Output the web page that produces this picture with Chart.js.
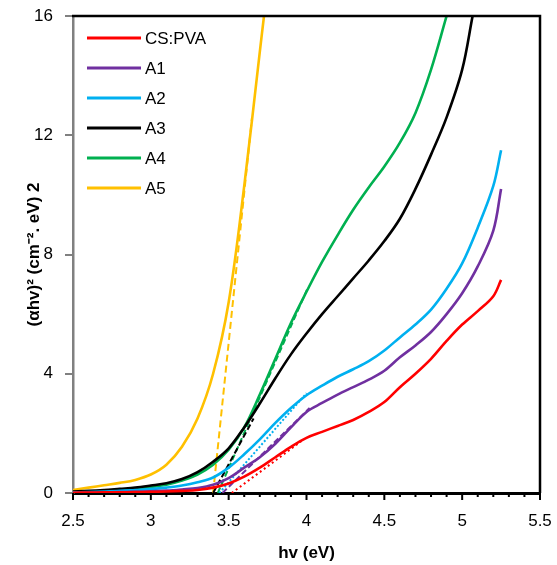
<!DOCTYPE html>
<html>
<head>
<meta charset="utf-8">
<script src="https://cdn.jsdelivr.net/npm/chart.js@4.4.1/dist/chart.umd.min.js"></script>
<style>
  html, body { margin: 0; padding: 0; background: #fff; }
  #wrap { width: 557px; height: 565px; }
</style>
</head>
<body>
<div id="wrap"><canvas id="c" width="557" height="565"></canvas></div>
<script>
// ---- data ----
const hv = [2.5,2.6,2.7,2.8,2.9,3.0,3.1,3.2,3.3,3.4,3.5,3.6,3.7,3.8,3.9,4.0,4.1,4.2,4.3,4.4,4.5,4.6,4.7,4.8,4.9,5.0,5.1,5.2,5.25];
const csPva = [0.01,0.015,0.02,0.025,0.03,0.04,0.05,0.07,0.1,0.18,0.32,0.55,0.85,1.2,1.55,1.85,2.05,2.25,2.45,2.72,3.05,3.55,4.0,4.5,5.1,5.65,6.1,6.6,7.15];
const a1 = [0.01,0.012,0.02,0.03,0.04,0.06,0.08,0.12,0.17,0.28,0.5,0.85,1.2,1.65,2.2,2.72,3.02,3.3,3.55,3.8,4.1,4.55,4.95,5.4,6.0,6.7,7.6,8.8,10.2];
const a2 = [0.02,0.035,0.05,0.07,0.1,0.13,0.18,0.25,0.36,0.52,0.85,1.3,1.8,2.35,2.85,3.28,3.6,3.9,4.15,4.42,4.78,5.22,5.65,6.15,6.85,7.7,8.9,10.3,11.5];
const hvA3 = [2.5,2.6,2.7,2.8,2.9,3.0,3.1,3.2,3.3,3.4,3.5,3.6,3.7,3.8,3.9,4.0,4.1,4.2,4.3,4.4,4.5,4.6,4.7,4.8,4.9,5.0,5.067];
const a3 = [0.05,0.07,0.1,0.14,0.18,0.25,0.33,0.47,0.7,1.05,1.5,2.2,3.0,3.85,4.65,5.35,6.0,6.6,7.2,7.8,8.45,9.2,10.2,11.35,12.6,14.2,16];
const hvA4 = [2.5,2.6,2.7,2.8,2.9,3.0,3.1,3.2,3.3,3.4,3.5,3.6,3.7,3.8,3.9,4.0,4.1,4.2,4.3,4.4,4.5,4.6,4.7,4.8,4.9];
const a4 = [0.03,0.045,0.06,0.09,0.13,0.2,0.28,0.42,0.62,0.95,1.45,2.2,3.3,4.5,5.7,6.75,7.75,8.65,9.5,10.25,10.95,11.75,12.75,14.2,16];
const hvA5 = [2.5,2.6,2.7,2.8,2.9,3.0,3.1,3.2,3.3,3.4,3.5,3.6,3.7,3.727];
const a5 = [0.1,0.18,0.26,0.34,0.44,0.62,0.95,1.55,2.5,4.0,6.4,10.3,14.8,16];

// linear-fit (band gap extrapolation) lines
const fitCsPvaX = [3.52, 3.97], fitCsPvaY = [0, 1.75];
const fitA1X = [3.46, 4.02], fitA1Y = [0, 2.85];
const fitA2X = [3.44, 4.0],  fitA2Y = [0, 3.35];
const fitA3X = [3.40, 3.66], fitA3Y = [0, 2.5];
const fitA4X = [3.43, 4.01], fitA4Y = [0, 6.9];
const fitA5X = [3.40, 3.65], fitA5Y = [0, 12.6];

const seriesLabels = ['CS:PVA','A1','A2','A3','A4','A5'];
const xTickLabels = ['2.5','3','3.5','4','4.5','5','5.5'];
const yTickLabels = ['0','4','8','12','16'];

const colors = ['#FF0000','#7030A0','#00B0F0','#000000','#00B050','#FFC000'];

function pts(xs, ys) { return xs.map((x, i) => ({ x: x, y: ys[i] })); }

const curves = [
  [hv, csPva], [hv, a1], [hv, a2], [hvA3, a3], [hvA4, a4], [hvA5, a5]
];
const fits = [
  [fitCsPvaX, fitCsPvaY, [2, 3]],
  [fitA1X, fitA1Y, [6, 3]],
  [fitA2X, fitA2Y, [2, 2]],
  [fitA3X, fitA3Y, [6, 3]],
  [fitA4X, fitA4Y, [6, 3]],
  [fitA5X, fitA5Y, [7, 4]]
];

const datasets = [];
curves.forEach((c, i) => {
  datasets.push({
    label: seriesLabels[i],
    data: pts(c[0], c[1]),
    borderColor: colors[i],
    borderWidth: 2.6,
    pointRadius: 0,
    tension: 0.35,
    showInLegend: true
  });
});
fits.forEach((f, i) => {
  datasets.push({
    label: seriesLabels[i] + ' fit',
    data: pts(f[0], f[1]),
    borderColor: colors[i],
    borderWidth: 2,
    borderDash: f[2],
    pointRadius: 0,
    showInLegend: false
  });
});

const FONT = "'Liberation Sans', Arial, sans-serif";
Chart.defaults.font.family = FONT;
Chart.defaults.color = '#000';

const framePlugin = {
  id: 'frame',
  afterDraw(chart) {
    const { ctx, chartArea: a, scales: { x } } = chart;
    ctx.save();
    ctx.strokeStyle = '#000';
    ctx.lineWidth = 2.5;
    ctx.beginPath();
    ctx.moveTo(a.left - 1, a.top);
    ctx.lineTo(a.right, a.top);
    ctx.lineTo(a.right, a.bottom);
    ctx.stroke();
    ctx.lineWidth = 2;
    ctx.beginPath();
    for (let i = 0; i <= 30; i++) {
      const px = x.getPixelForValue(x.min + i * 0.1);
      const len = (i % 5 === 0) ? 7 : 4;
      ctx.moveTo(px, a.bottom);
      ctx.lineTo(px, a.bottom + len);
    }
    ctx.stroke();
    ctx.font = '17px ' + FONT;
    ctx.textBaseline = 'middle';
    ctx.textAlign = 'left';
    let row = 0;
    chart.data.datasets.forEach(ds => {
      if (!ds.showInLegend) return;
      const yy = a.top + 22 + row * 30;
      ctx.strokeStyle = ds.borderColor;
      ctx.lineWidth = 3;
      ctx.setLineDash([]);
      ctx.beginPath();
      ctx.moveTo(a.left + 14, yy);
      ctx.lineTo(a.left + 68, yy);
      ctx.stroke();
      ctx.fillStyle = '#000';
      ctx.fillText(ds.label, a.left + 72, yy + 1);
      row++;
    });
    ctx.restore();
  }
};

new Chart(document.getElementById('c'), {
  type: 'line',
  data: { datasets: datasets },
  options: {
    responsive: false,
    animation: false,
    devicePixelRatio: 1,
    layout: { padding: { top: 16, right: 17, left: 0, bottom: 0 } },
    plugins: { legend: { display: false }, tooltip: { enabled: false } },
    scales: {
      x: {
        type: 'linear',
        min: 2.5, max: 5.5,
        afterFit: s => { s.height = 72; s.paddingLeft = 0; s.paddingRight = 0; },
        afterBuildTicks: s => { s.ticks = xTickLabels.map(v => ({ value: parseFloat(v) })); },
        ticks: {
          font: { size: 17 }, color: '#000', padding: 18, maxRotation: 0, autoSkip: false,
          callback: (v, i) => xTickLabels[i]
        },
        grid: { display: false, drawTicks: false },
        border: { display: true, color: '#000', width: 3 },
        title: { display: true, text: 'hv (eV)', color: '#000', font: { size: 17, weight: 'bold' }, padding: { top: 0, bottom: 1 } }
      },
      y: {
        type: 'linear',
        min: 0, max: 16,
        afterFit: s => { s.width = 73; s.paddingTop = 0; s.paddingBottom = 0; },
        afterBuildTicks: s => { s.ticks = yTickLabels.map(v => ({ value: parseFloat(v) })); },
        ticks: {
          font: { size: 17 }, color: '#000', padding: 12,
          callback: (v, i) => yTickLabels[i]
        },
        grid: { drawOnChartArea: false, drawTicks: true, tickLength: 8, color: '#808080', lineWidth: 2 },
        border: { display: true, color: '#808080', width: 2.5 },
        title: { display: true, text: '(αhv)² (cm⁻². eV) 2', color: '#000', font: { size: 17, weight: 'bold' }, padding: { top: 24, bottom: 0 } }
      }
    }
  },
  plugins: [framePlugin]
});
</script>
</body>
</html>
